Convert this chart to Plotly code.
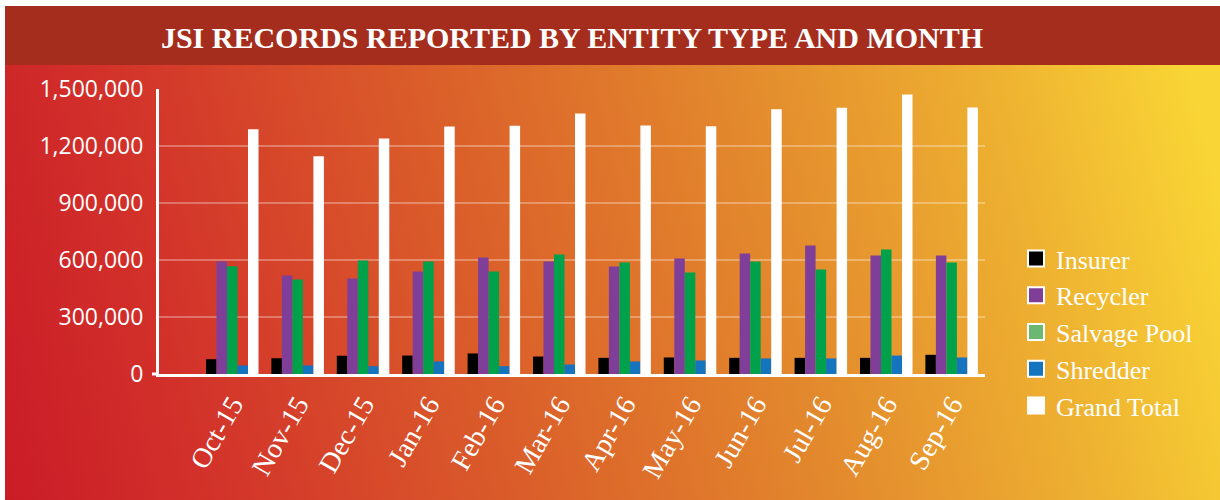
import base64
import plotly.graph_objects as go

months = ["Oct-15", "Nov-15", "Dec-15", "Jan-16", "Feb-16", "Mar-16",
          "Apr-16", "May-16", "Jun-16", "Jul-16", "Aug-16", "Sep-16"]
insurer = [78000, 83000, 96000, 97000, 108000, 92000, 85000, 87000, 85000, 85000, 85000, 101000]
recycler = [592000, 518000, 503000, 539000, 613000, 592000, 566000, 608000, 634000, 676000, 624000, 624000]
salvage_pool = [567000, 497000, 597000, 592000, 539000, 629000, 587000, 534000, 592000, 550000, 655000, 587000]
shredder = [45000, 45000, 41000, 66000, 41000, 50000, 66000, 71000, 82000, 82000, 97000, 87000]
grand_total = [1288000, 1146000, 1239000, 1302000, 1306000, 1371000, 1308000, 1304000, 1394000, 1401000, 1471000, 1403000]
y_ticks = [0, 300000, 600000, 900000, 1200000, 1500000]

series = [
    ("Insurer", insurer, "#000000", "#000000"),
    ("Recycler", recycler, "#7f3f98", "#7f3f98"),
    ("Salvage Pool", salvage_pool, "#00a14b", "#6cb872"),
    ("Shredder", shredder, "#1474bd", "#1474bd"),
    ("Grand Total", grand_total, "#ffffff", "#ffffff"),
]

# plot-area geometry in pixels
W, H = 1220, 500
L, R, T, B = 159, 985, 89, 374
pw, ph = R - L, B - T
def px(x):
    return (x - L) / pw
def py(y):
    return (B - y) / ph

svg = '''<svg xmlns="http://www.w3.org/2000/svg" width="1215" height="435" viewBox="0 0 1215 435" preserveAspectRatio="none">
<defs><linearGradient id="g" gradientUnits="userSpaceOnUse" x1="0" y1="435" x2="1215" y2="135">
<stop offset="0" stop-color="#ca1c27"/>
<stop offset="0.15" stop-color="#d2302a"/>
<stop offset="0.45" stop-color="#dc662a"/>
<stop offset="0.65" stop-color="#e38a2d"/>
<stop offset="0.85" stop-color="#eeb231"/>
<stop offset="1" stop-color="#f9d535"/>
</linearGradient></defs>
<rect x="0" y="0" width="1215" height="435" fill="url(#g)"/></svg>'''
src = "data:image/svg+xml;base64," + base64.b64encode(svg.encode()).decode()

fig = go.Figure()
for name, vals, col, lcol in series:
    fig.add_trace(go.Bar(x=months, y=vals, name=name, marker_color=col,
                         marker_line_width=0, showlegend=False))
for name, vals, col, lcol in series:
    fig.add_trace(go.Scatter(x=[None], y=[None], mode="markers", name=name,
                             legendgroup=name,
                             marker=dict(symbol="square", size=16, color=lcol,
                                         line=dict(color="white", width=2))))

fig.update_layout(
    width=W, height=H,
    margin=dict(l=L, r=W - R, t=T, b=H - B, autoexpand=False),
    paper_bgcolor="white", plot_bgcolor="rgba(0,0,0,0)",
    barmode="group", bargap=0.197, bargroupgap=0,
    title=dict(text="<b>JSI RECORDS REPORTED BY ENTITY TYPE AND MONTH</b>",
               x=0.5, xref="paper", xanchor="center",
               y=1 - 37.5 / H, yanchor="middle",
               font=dict(family="Liberation Serif", size=30, color="white")),
    showlegend=True,
    legend=dict(x=px(1016), y=py(235), xanchor="left", yanchor="top",
                bgcolor="rgba(0,0,0,0)", traceorder="grouped", tracegroupgap=0,
                font=dict(family="Liberation Serif", size=26, color="white"),
                itemwidth=30),
    images=[dict(source=src, xref="paper", yref="paper",
                 x=px(5), y=py(65), sizex=(W - 5) / pw, sizey=(H - 65) / ph,
                 xanchor="left", yanchor="top", sizing="stretch", layer="below")],
    shapes=[
        dict(type="rect", xref="paper", yref="paper", x0=px(5), x1=px(W),
             y0=py(65), y1=py(6), fillcolor="#a52d1e", line_width=0, layer="below"),
        dict(type="line", xref="paper", yref="paper", x0=px(152), x1=px(159),
             y0=0, y1=0, line=dict(color="white", width=3)),
    ],
)
fig.update_xaxes(range=[-1.12, 11.51], showgrid=False, showline=True,
                 linecolor="white", linewidth=3, tickangle=-60, ticks="",
                 tickfont=dict(family="Liberation Serif", size=28, color="white"))
fig.update_yaxes(range=[0, 1500000], tickvals=y_ticks, tickformat=",",
                 showgrid=True, gridcolor="rgba(255,255,255,0.3)", gridwidth=2,
                 showline=True, linecolor="white", linewidth=3, zeroline=False,
                 ticks="outside", ticklen=8, tickcolor="rgba(0,0,0,0)",
                 tickfont=dict(family="Open Sans", size=23, color="white"))

fig.write_html("out.html", config={"displayModeBar": False},
               post_script="document.body.style.margin='0';")
